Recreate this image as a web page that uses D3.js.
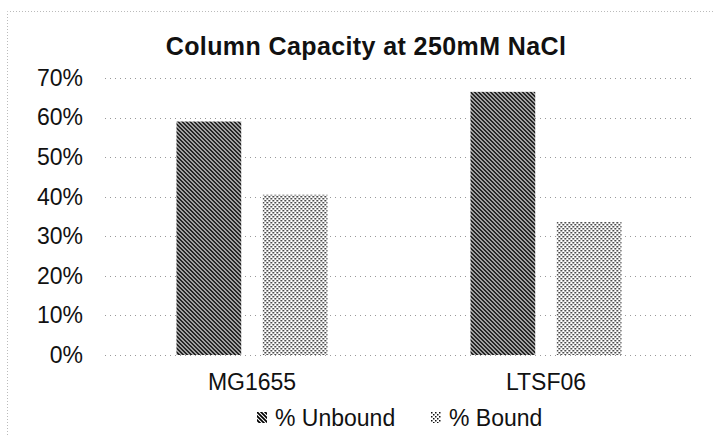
<!DOCTYPE html>
<html lang="en">
<head>
<meta charset="UTF-8">
<script src="https://d3js.org/d3.v7.min.js"></script>
<style>
  body { margin: 0; background: #fff; }
  text { font-family: "Liberation Sans", Arial, sans-serif; fill: #111; }
</style>
</head>
<body>
<div id="chart"></div>
<script>
var categories = ["MG1655", "LTSF06"];
var seriesNames = ["% Unbound", "% Bound"];
var unbound = [0.59, 0.665];
var bound = [0.405, 0.336];
var yTicks = [0, 0.1, 0.2, 0.3, 0.4, 0.5, 0.6, 0.7];

var width = 715, height = 435;
var margin = {top: 78, right: 22, bottom: 80, left: 105};

var svg = d3.select("#chart").append("svg")
    .attr("width", width)
    .attr("height", height);

// patterns for the two series
var defs = svg.append("defs");
var p1 = defs.append("pattern")
    .attr("id", "hatch")
    .attr("patternUnits", "userSpaceOnUse")
    .attr("width", 4).attr("height", 4);
p1.append("rect").attr("width", 4).attr("height", 4).attr("fill", "#fff");
p1.append("path")
    .attr("d", "M-1,-1L5,5M3,-1L5,1M-1,3L1,5")
    .attr("stroke", "#000").attr("stroke-width", 1.7);

var p2 = defs.append("pattern")
    .attr("id", "dots")
    .attr("patternUnits", "userSpaceOnUse")
    .attr("width", 4).attr("height", 4);
p2.append("rect").attr("width", 4).attr("height", 4).attr("fill", "#fff");
p2.append("rect").attr("x", 0).attr("y", 0).attr("width", 1.5).attr("height", 1.5).attr("fill", "#111");
p2.append("rect").attr("x", 2).attr("y", 2).attr("width", 1.5).attr("height", 1.5).attr("fill", "#111");

var fills = ["url(#hatch)", "url(#dots)"];

// outer dotted frame
svg.append("path")
    .attr("d", "M7.5," + height + "V11.5H" + width)
    .attr("fill", "none")
    .attr("stroke", "#bbb")
    .attr("stroke-dasharray", "1,2");

var x = d3.scaleBand()
    .domain(categories)
    .range([margin.left, width - margin.right]);

var x1 = d3.scaleBand()
    .domain(seriesNames)
    .range([0, 151])
    .paddingInner(0.25);

var y = d3.scaleLinear()
    .domain([0, 0.7])
    .range([355, 78]);

// gridlines
svg.append("g")
    .selectAll("line")
    .data(yTicks)
    .join("line")
    .attr("x1", margin.left)
    .attr("x2", width - margin.right)
    .attr("y1", function(d) { return Math.round(y(d)) + 0.5; })
    .attr("y2", function(d) { return Math.round(y(d)) + 0.5; })
    .attr("stroke", "#999")
    .attr("stroke-dasharray", "1,4");

// y axis labels
var yAxis = d3.axisLeft(y)
    .tickValues(yTicks)
    .tickFormat(d3.format(".0%"))
    .tickSize(0)
    .tickPadding(0);
var ya = svg.append("g")
    .attr("transform", "translate(83,0)")
    .call(yAxis);
ya.select(".domain").remove();
ya.selectAll("text").style("font-size", "23px").attr("fill", "#111");

// bars
var groups = svg.append("g")
    .selectAll("g")
    .data(categories)
    .join("g")
    .attr("transform", function(d) {
        return "translate(" + (x(d) + x.bandwidth() / 2 - 75.5) + ",0)";
    });

groups.selectAll("rect")
    .data(function(d, i) {
        return [
            {s: seriesNames[0], v: unbound[i], k: 0},
            {s: seriesNames[1], v: bound[i], k: 1}
        ];
    })
    .join("rect")
    .attr("x", function(d) { return x1(d.s); })
    .attr("width", x1.bandwidth())
    .attr("y", function(d) { return y(d.v); })
    .attr("height", function(d) { return y(0) - y(d.v); })
    .attr("fill", function(d) { return fills[d.k]; });

// x axis labels
var xAxis = d3.axisBottom(x).tickSize(0).tickPadding(0);
var xa = svg.append("g")
    .attr("transform", "translate(0,374)")
    .call(xAxis);
xa.select(".domain").remove();
xa.selectAll("text").style("font-size", "23px").attr("fill", "#111").attr("dy", "0.7em");

// title
svg.append("text")
    .attr("x", 366)
    .attr("y", 55)
    .attr("text-anchor", "middle")
    .style("font-size", "25px")
    .style("font-weight", "bold")
    .style("letter-spacing", "0.4px")
    .text("Column Capacity at 250mM NaCl");

// legend
var legendX = [257, 431];
var legend = svg.append("g")
    .selectAll("g")
    .data(seriesNames)
    .join("g")
    .attr("transform", function(d, i) { return "translate(" + legendX[i] + ",412)"; });
legend.append("rect")
    .attr("width", 10).attr("height", 11)
    .attr("fill", function(d, i) { return fills[i]; });
legend.append("text")
    .attr("x", 18)
    .attr("y", 14)
    .style("font-size", "23px")
    .text(function(d) { return d; });
</script>
</body>
</html>
